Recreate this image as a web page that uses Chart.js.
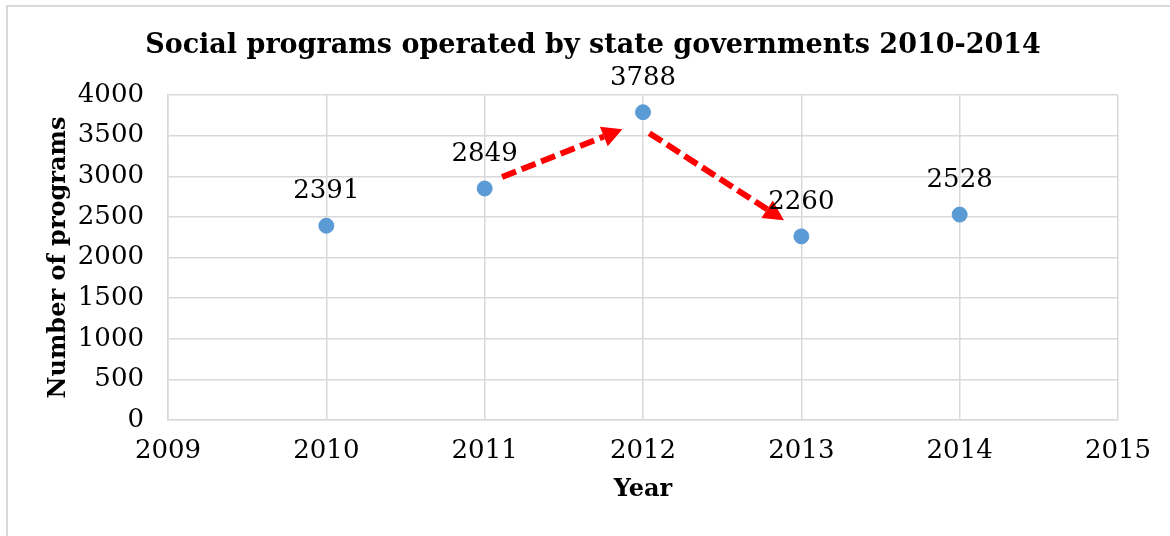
<!DOCTYPE html>
<html>
<head>
<meta charset="utf-8">
<title>Social programs operated by state governments 2010-2014</title>
<script src="https://cdn.jsdelivr.net/npm/chart.js@4/dist/chart.umd.min.js"></script>
<style>
  html, body { margin: 0; padding: 0; background: #fff; }
  #wrap { width: 1170px; height: 536px; }
</style>
</head>
<body>
<div id="wrap"><canvas id="programs" width="1170" height="536"></canvas></div>
<script>
// data
var years = [2010, 2011, 2012, 2013, 2014];
var programCounts = [2391, 2849, 3788, 2260, 2528];
var xTicks = [2009, 2015];          // axis range (years)
var yTicks = [0, 4000, 500];        // min, max, step

// trend arrows, in data units (year, programs)
var trendArrows = [
    { from: [2011.11, 2990], to: [2011.87, 3580] },
    { from: [2012.04, 3530], to: [2012.89, 2460] }
];

var FONT = '"DejaVu Serif", "Liberation Serif", serif';
var GRID = '#d9d9d9';

// outer frame + title
var framePlugin = {
    id: 'frame',
    beforeDraw: function (chart) {
        var ctx = chart.ctx;
        ctx.save();
        ctx.fillStyle = '#fff';
        ctx.fillRect(0, 0, chart.width, chart.height);
        ctx.strokeStyle = GRID;
        ctx.lineWidth = 2;
        ctx.strokeRect(7, 6, chart.width + 40, chart.height + 40);
        ctx.restore();
    },
    afterDraw: function (chart) {
        var ctx = chart.ctx;
        ctx.save();
        ctx.font = 'bold 27px ' + FONT;
        ctx.fillStyle = '#000';
        ctx.textAlign = 'center';
        ctx.textBaseline = 'middle';
        ctx.fillText('Social programs operated by state governments 2010-2014', 593, 46);
        ctx.restore();
    }
};

// value labels above points
var valueLabels = {
    id: 'valueLabels',
    afterDatasetsDraw: function (chart) {
        var ctx = chart.ctx;
        var meta = chart.getDatasetMeta(0);
        ctx.save();
        ctx.font = '26px ' + FONT;
        ctx.fillStyle = '#000';
        ctx.textAlign = 'center';
        ctx.textBaseline = 'middle';
        meta.data.forEach(function (pt, i) {
            ctx.fillText(String(programCounts[i]), pt.x, pt.y - 34);
        });
        ctx.restore();
    }
};

// dashed red arrows
var arrowPlugin = {
    id: 'arrows',
    afterDatasetsDraw: function (chart) {
        var ctx = chart.ctx;
        var xs = chart.scales.x, ys = chart.scales.y;
        ctx.save();
        trendArrows.forEach(function (a) {
            var x1 = xs.getPixelForValue(a.from[0]), y1 = ys.getPixelForValue(a.from[1]);
            var x2 = xs.getPixelForValue(a.to[0]), y2 = ys.getPixelForValue(a.to[1]);
            var ang = Math.atan2(y2 - y1, x2 - x1);
            var head = 20, half = 10.5;
            var bx = x2 - head * Math.cos(ang), by = y2 - head * Math.sin(ang);
            ctx.strokeStyle = '#ff0000';
            ctx.fillStyle = '#ff0000';
            ctx.lineWidth = 6;
            ctx.setLineDash([15, 6]);
            ctx.beginPath();
            ctx.moveTo(x1, y1);
            ctx.lineTo(bx, by);
            ctx.stroke();
            ctx.setLineDash([]);
            ctx.beginPath();
            ctx.moveTo(x2, y2);
            ctx.lineTo(bx + half * Math.sin(ang), by - half * Math.cos(ang));
            ctx.lineTo(bx - half * Math.sin(ang), by + half * Math.cos(ang));
            ctx.closePath();
            ctx.fill();
        });
        ctx.restore();
    }
};

var chart = new Chart(
    document.getElementById('programs').getContext('2d'),
    {
        type: 'scatter',
        data: {
            datasets: [{
                label: 'Programs',
                data: years.map(function (y, i) { return { x: y, y: programCounts[i] }; }),
                backgroundColor: '#5b9bd5',
                borderColor: '#5b9bd5',
                pointRadius: 7.5,
                pointHoverRadius: 7.5
            }]
        },
        options: {
            responsive: false,
            animation: false,
            events: [],
            layout: { padding: { top: 95, right: 52, bottom: 0, left: 0 } },
            plugins: {
                legend: { display: false },
                title: { display: false },
                tooltip: { enabled: false }
            },
            scales: {
                x: {
                    type: 'linear',
                    min: xTicks[0],
                    max: xTicks[1],
                    afterFit: function (scale) { scale.height = 116; },
                    grid: { color: GRID, lineWidth: 1.5, drawTicks: false },
                    border: { color: GRID, width: 1.5 },
                    ticks: {
                        stepSize: 1,
                        padding: 16,
                        color: '#000',
                        font: { family: FONT, size: 26 },
                        callback: function (v) { return String(v); }
                    },
                    title: {
                        display: true,
                        text: 'Year',
                        color: '#000',
                        font: { family: FONT, size: 24, weight: 'bold' },
                        padding: { top: 0, bottom: 32 }
                    }
                },
                y: {
                    min: yTicks[0],
                    max: yTicks[1],
                    afterFit: function (scale) { scale.width = 168; },
                    grid: { color: GRID, lineWidth: 1.5, drawTicks: false },
                    border: { color: GRID, width: 1.5 },
                    ticks: {
                        stepSize: yTicks[2],
                        padding: 24,
                        color: '#000',
                        font: { family: FONT, size: 26 },
                        callback: function (v) { return String(v); }
                    },
                    title: {
                        display: true,
                        text: 'Number of programs',
                        color: '#000',
                        font: { family: FONT, size: 24, weight: 'bold' },
                        padding: { top: 44, bottom: 0 }
                    }
                }
            }
        },
        plugins: [framePlugin, arrowPlugin, valueLabels]
    }
);
</script>
</body>
</html>
